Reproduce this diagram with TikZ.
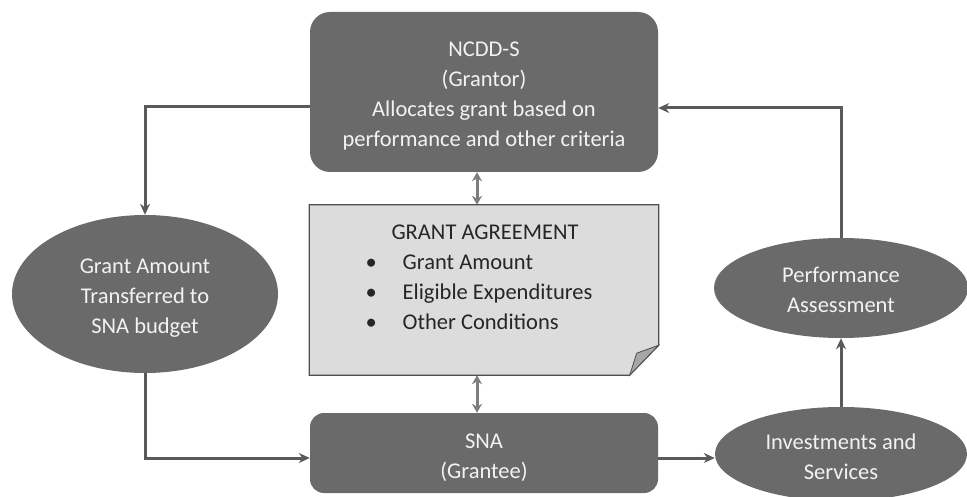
\documentclass[tikz,border=0pt]{standalone}
\usepackage{fontspec}
\setmainfont{Carlito}
\usepackage{tikz}
\usetikzlibrary{arrows.meta, calc, positioning, shapes.geometric, backgrounds}
\definecolor{dunkel}{HTML}{6A6A6A}
\definecolor{pfeil}{HTML}{5A5A5A}
\definecolor{pfeilhell}{HTML}{7E7E7E}
\definecolor{papier}{HTML}{DCDCDC}
\definecolor{rand}{HTML}{4E4E4E}
\definecolor{schrift}{HTML}{F2F2F2}
% Text etwas tiefer setzen, wie im Original
\newcommand{\tiefer}[1]{\raisebox{-4pt}[\height][\depth]{%
  \begin{tabular}{@{}c@{}}#1\end{tabular}}}

\begin{document}
\begin{tikzpicture}[x=1pt, y=-1pt,
    every node/.style={font=\fontsize{22.5}{30}\selectfont},
    boxnode/.style={rectangle, rounded corners=20pt, fill=dunkel,
      text=schrift, align=center, inner sep=0pt},
    ovalnode/.style={ellipse, fill=dunkel, text=schrift, align=center,
      inner sep=0pt},
    flow/.style={pfeil, line width=3pt, -{Stealth[length=11pt, width=10pt]}},
    dflow/.style={pfeilhell, line width=3pt,
      {Stealth[length=9pt, width=10pt]}-{Stealth[length=9pt, width=10pt]}}]
      \useasboundingbox (0,0) rectangle (967,497);

      % --- Knoten ---
      \node[boxnode, minimum width=348pt, minimum height=160pt]
        (grantor) at (484,92)
        {\tiefer{NCDD-S\\(Grantor)\\Allocates grant based on\\performance and other criteria}};
      \node[ovalnode, minimum width=266pt, minimum height=158pt]
        (transfer) at (145,294) {\tiefer{Grant Amount\\Transferred to\\SNA budget}};
      \node[rectangle, inner sep=0pt, minimum width=349pt, minimum height=170pt,
        text=black!85] (agree) at (484,290)
        {\raisebox{11pt}[\height][\depth]{\begin{tabular}{@{}l@{\hspace{26pt}}l@{}}
          \multicolumn{2}{c}{\hspace{12pt}GRANT AGREEMENT}\\
          \textbullet & Grant Amount\\
          \textbullet & Eligible Expenditures\\
          \textbullet & Other Conditions
        \end{tabular}\hspace{10pt}}};
      \node[boxnode, rounded corners=14pt, minimum width=348pt, minimum height=80pt]
        (sna) at (484,453) {\tiefer{SNA\\(Grantee)}};
      \node[ovalnode, minimum width=252pt, minimum height=94pt]
        (invest) at (841,454) {\tiefer{Investments and\\Services}};
      \node[ovalnode, minimum width=254pt, minimum height=100pt]
        (perform) at (841,288) {\tiefer{Performance\\Assessment}};

      % --- Vereinbarung als Notizblatt mit Eselsohr ---
      \begin{scope}[on background layer]
        \fill[papier, draw=rand, line width=1.2pt] (agree.north west)
          -- (agree.north east) -- ([yshift=30pt]agree.south east)
          -- ([xshift=-29pt]agree.south east) -- (agree.south west) -- cycle;
        \fill[gray!70, draw=rand, line width=0.8pt] ([yshift=30pt]agree.south east)
          -- ([xshift=-29pt]agree.south east) -- ++(7,-22) -- cycle;
      \end{scope}

      % --- Verbindungen ---
      \draw[flow] ([yshift=-15pt]grantor.west) -| (transfer.north);
      \draw[flow] (transfer.south) |- ([yshift=-5pt]sna.west);
      \draw[flow] ([yshift=-5pt]sna.east) -- ([yshift=-5pt]sna.east -| invest.west);
      \draw[flow] (invest.north) -- (perform.south);
      \draw[flow] (perform.north) |- ([yshift=-16pt]grantor.east);
      \draw[dflow] ([xshift=-7pt]grantor.south) -- ([xshift=-7pt]agree.north);
      \draw[dflow] ([xshift=-7pt]agree.south) -- ([xshift=-7pt]sna.north);
    \end{tikzpicture}
\end{document}
